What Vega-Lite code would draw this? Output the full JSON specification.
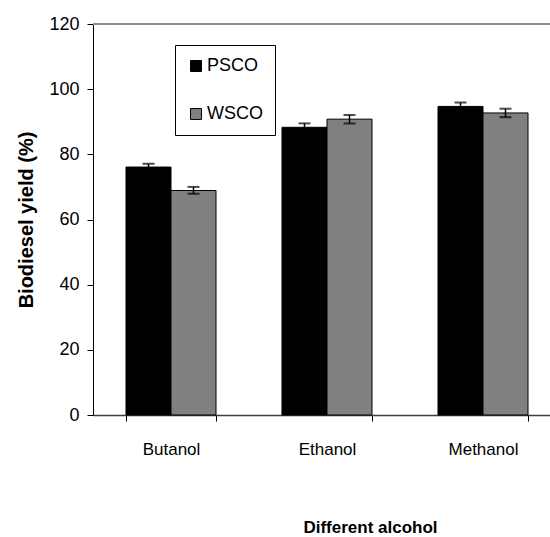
{
  "$schema": "https://vega.github.io/schema/vega-lite/v6.json",
  "autosize": {"type": "none"},
  "width": 457,
  "height": 391,
  "padding": {"left": 93, "top": 24, "right": 0, "bottom": 122},
  "background": "white",
  "config": {
    "view": {"stroke": null},
    "font": "Liberation Sans",
    "axis": {"labelFont": "Liberation Sans", "titleFont": "Liberation Sans", "labelColor": "black", "titleColor": "black"}
  },
  "datasets": {
    "bars": [
      {"alcohol": "Butanol", "oil": "PSCO", "yield": 76.1, "lo": 75.1, "hi": 77.1},
      {"alcohol": "Butanol", "oil": "WSCO", "yield": 68.9, "lo": 67.9, "hi": 70.0},
      {"alcohol": "Ethanol", "oil": "PSCO", "yield": 88.3, "lo": 87.1, "hi": 89.5},
      {"alcohol": "Ethanol", "oil": "WSCO", "yield": 90.8, "lo": 89.5, "hi": 92.1},
      {"alcohol": "Methanol", "oil": "PSCO", "yield": 94.7, "lo": 93.5, "hi": 95.9},
      {"alcohol": "Methanol", "oil": "WSCO", "yield": 92.7, "lo": 91.4, "hi": 94.0}
    ],
    "top": [{"v": 120}]
  },
  "layer": [
    {
      "data": {"name": "top"},
      "mark": {"type": "rule", "color": "#8c8c8c", "strokeWidth": 2},
      "encoding": {"y": {"field": "v", "type": "quantitative", "scale": {"domain": [0, 120]}}}
    },
    {
      "data": {"name": "bars"},
      "mark": {"type": "bar", "stroke": "black", "strokeWidth": 1},
      "encoding": {
        "x": {
          "field": "alcohol", "type": "nominal", "sort": ["Butanol", "Ethanol", "Methanol"],
          "scale": {"range": [0, 468], "paddingInner": 0.423, "paddingOuter": 0.2115},
          "axis": {
            "title": "Different alcohol", "titleFontSize": 17, "titleFontWeight": "bold",
            "titleX": 277, "titleY": 112, "titleBaseline": "middle", "titleAnchor": "middle", "titleAlign": "center",
            "labelAngle": 0, "labelFontSize": 17, "labelPadding": 20,
            "tickBand": "extent", "tickSize": 6, "tickColor": "black", "domainColor": "#404040", "domainWidth": 1.5
          }
        },
        "xOffset": {"field": "oil", "type": "nominal", "scale": {"paddingInner": 0, "paddingOuter": 0}},
        "y": {
          "field": "yield", "type": "quantitative",
          "scale": {"domain": [0, 120]},
          "axis": {
            "title": "Biodiesel yield (%)", "titleFontSize": 20, "titleFontWeight": "bold", "titlePadding": 12,
            "values": [0, 20, 40, 60, 80, 100, 120], "labelFontSize": 18, "labelPadding": 8,
            "tickSize": 6, "tickColor": "black", "domainColor": "black", "grid": false
          }
        },
        "color": {
          "field": "oil", "type": "nominal",
          "scale": {"domain": ["PSCO", "WSCO"], "range": ["#000000", "#808080"]},
          "legend": {
            "title": null, "orient": "none", "legendX": 82, "legendY": 21,
            "strokeColor": "black", "fillColor": "white", "padding": 12,
            "symbolType": "square", "symbolSize": 120, "symbolStrokeColor": "black", "symbolStrokeWidth": 1,
            "labelFontSize": 18, "labelColor": "black", "rowPadding": 30, "labelOffset": 2
          }
        }
      }
    },
    {
      "data": {"name": "bars"},
      "mark": {"type": "rule", "color": "black", "strokeWidth": 1.5},
      "encoding": {
        "x": {"field": "alcohol", "type": "nominal", "sort": ["Butanol", "Ethanol", "Methanol"]},
        "xOffset": {"field": "oil", "type": "nominal"},
        "y": {"field": "lo", "type": "quantitative"},
        "y2": {"field": "hi"}
      }
    },
    {
      "data": {"name": "bars"},
      "mark": {"type": "tick", "color": "black", "size": 12, "thickness": 2},
      "encoding": {
        "x": {"field": "alcohol", "type": "nominal", "sort": ["Butanol", "Ethanol", "Methanol"]},
        "xOffset": {"field": "oil", "type": "nominal"},
        "y": {"field": "lo", "type": "quantitative"}
      }
    },
    {
      "data": {"name": "bars"},
      "mark": {"type": "tick", "color": "black", "size": 12, "thickness": 2},
      "encoding": {
        "x": {"field": "alcohol", "type": "nominal", "sort": ["Butanol", "Ethanol", "Methanol"]},
        "xOffset": {"field": "oil", "type": "nominal"},
        "y": {"field": "hi", "type": "quantitative"}
      }
    }
  ]
}
